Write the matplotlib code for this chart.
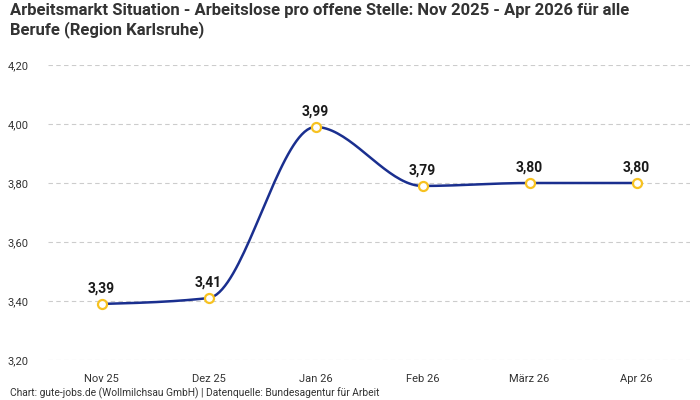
import numpy as np
import matplotlib
matplotlib.use("Agg")
import matplotlib.pyplot as plt

# chart data
months = ["Nov 25", "Dez 25", "Jan 26", "Feb 26", "März 26", "Apr 26"]
ratio = [3.39, 3.41, 3.99, 3.79, 3.80, 3.80]
yticks = [3.20, 3.40, 3.60, 3.80, 4.00, 4.20]

title = "Arbeitsmarkt Situation - Arbeitslose pro offene Stelle: Nov 2025 - Apr 2026 für alle\nBerufe (Region Karlsruhe)"
source = "Chart: gute-jobs.de (Wollmilchsau GmbH) | Datenquelle: Bundesagentur für Arbeit"

font = "Roboto"


def monotone_x(x, y, steps=40):
    # same smoothing as d3 curveMonotoneX
    x = np.asarray(x, float)
    y = np.asarray(y, float)
    n = len(x)
    h = np.diff(x)
    s = np.diff(y) / h
    t = np.zeros(n)
    for i in range(1, n - 1):
        p = (s[i - 1] * h[i] + s[i] * h[i - 1]) / (h[i - 1] + h[i])
        t[i] = (np.sign(s[i - 1]) + np.sign(s[i])) * min(abs(s[i - 1]), abs(s[i]), 0.5 * abs(p))
    t[0] = (3 * s[0] - t[1]) / 2
    t[-1] = (3 * s[-1] - t[-2]) / 2
    xs, ys = [], []
    u = np.linspace(0, 1, steps)
    for i in range(n - 1):
        dx = h[i] / 3
        px = [x[i], x[i] + dx, x[i + 1] - dx, x[i + 1]]
        py = [y[i], y[i] + dx * t[i], y[i + 1] - dx * t[i + 1], y[i + 1]]
        b = [(1 - u) ** 3, 3 * u * (1 - u) ** 2, 3 * u ** 2 * (1 - u), u ** 3]
        xs.append(sum(bi * pi for bi, pi in zip(b, px)))
        ys.append(sum(bi * pi for bi, pi in zip(b, py)))
    return np.concatenate(xs), np.concatenate(ys)


fig = plt.figure(figsize=(7, 4), dpi=100)
ax = fig.add_axes([48 / 700, 40 / 400, 642 / 700, 295 / 400])

xi = np.arange(len(months))
cx, cy = monotone_x(xi, ratio)
ax.plot(cx, cy, color="#1a2f8f", lw=1.8, zorder=3)
ax.plot(xi, ratio, "o", ms=6.5, mfc="white", mec="#f7c221", mew=1.6, zorder=4)

for x, v in zip(xi, ratio):
    ax.annotate(f"{v:.2f}".replace(".", ","), (x, v), xytext=(0, 6), textcoords="offset points",
                ha="center", va="bottom", fontsize=10, fontweight="bold",
                color="#1a1a1a", family=font)

ax.set_xlim(-0.5, len(months) - 0.5)
ax.set_ylim(yticks[0], yticks[-1])
ax.set_yticks(yticks)
ax.set_yticklabels([f"{v:.2f}".replace(".", ",") for v in yticks])
ax.set_xticks(xi)
ax.set_xticklabels(months)
ax.grid(axis="y", color="#cccccc", ls=(0, (4, 3)), lw=0.8)
ax.set_axisbelow(True)
for sp in ax.spines.values():
    sp.set_visible(False)
ax.tick_params(length=0, labelsize=8, labelcolor="#333333")
ax.tick_params(axis="y", pad=14)
ax.tick_params(axis="x", pad=10)
for lab in ax.get_xticklabels() + ax.get_yticklabels():
    lab.set_family(font)

fig.text(10 / 700, 1 - 3 / 400, title, ha="left", va="top", fontsize=12, fontweight="bold",
         color="#333333", family=font, linespacing=1.2)
fig.text(10 / 700, 1 - 393 / 400, source, ha="left", va="center", fontsize=7.4,
         color="#333333", family=font)

fig.savefig("out.png", dpi=100)
